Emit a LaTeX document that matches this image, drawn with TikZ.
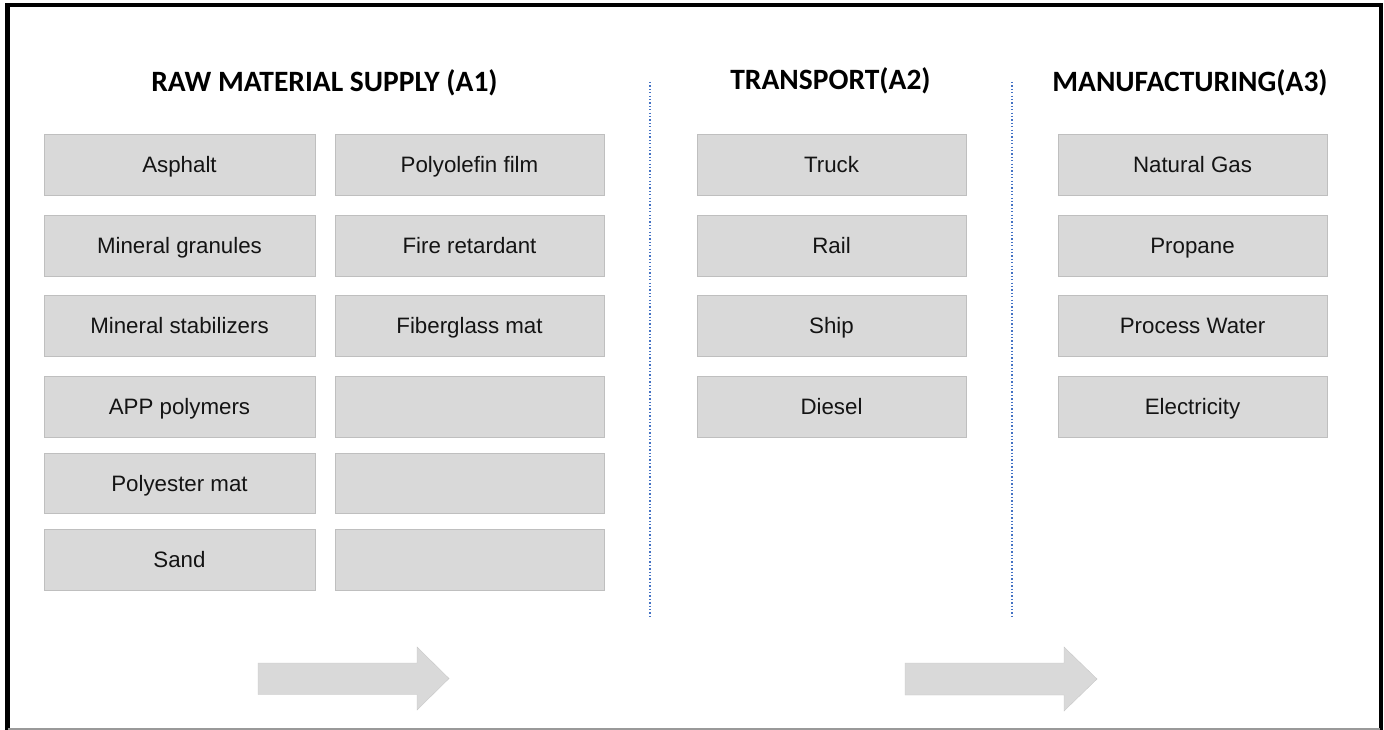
\documentclass[tikz,border=0pt]{standalone}
\usepackage{fontspec}
\setmainfont{Liberation Sans}
\newfontfamily\titlefont{Carlito}
\definecolor{boxfill}{HTML}{D9D9D9}
\definecolor{boxedge}{HTML}{BFBFBF}
\definecolor{sepblue}{HTML}{4472C4}
\definecolor{arrowfill}{HTML}{D9D9D9}
\tikzset{
  itembox/.style={draw=boxedge, line width=1pt, fill=boxfill, minimum width=270pt, minimum height=60.5pt,
    inner sep=0pt, font=\fontsize{22.3pt}{25pt}\selectfont, text height=15.9pt, text depth=0pt, text=black!92},
  coltitle/.style={inner sep=0pt, font=\titlefont\bfseries\fontsize{29.5pt}{33pt}\selectfont, text height=18.5pt, text depth=0pt},
  sepline/.style={draw=sepblue, line width=1.3pt, dash pattern=on 1.3pt off 2.1pt},
  flowarrow/.style={fill=arrowfill, draw=boxfill!92!black, line width=0.4pt}
}
\begin{document}
\begin{tikzpicture}[x=1pt,y=-1pt]
\useasboundingbox (0,0) rectangle (1384,730);
\fill[white] (0,0) rectangle (1384,730);
% frame
\draw[black, line width=4.5pt] (7.5,731) -- (7.5,5) -- (1381,5) -- (1381,731);
\draw[black!40, line width=1.5pt] (8,729) -- (1380,729);

% titles
\node[coltitle] (t1) at (324.5,82) {RAW MATERIAL SUPPLY (A1)};
\node[coltitle] (t2) at (830.5,80) {TRANSPORT(A2)};
\node[coltitle] (t3) at (1190,82.5) {MANUFACTURING(A3)};

% raw material column 1
\node[itembox, minimum width=271pt] (a1) at (179.5,165) {Asphalt};
\node[itembox, minimum width=271pt] (a2) at (179.5,246) {Mineral granules};
\node[itembox, minimum width=271pt] (a3) at (179.5,326) {Mineral stabilizers};
\node[itembox, minimum width=271pt] (a4) at (179.5,407) {APP polymers};
\node[itembox, minimum width=271pt] (a5) at (179.5,483.5) {Polyester mat};
\node[itembox, minimum width=271pt] (a6) at (179.5,560) {Sand};
% raw material column 2
\node[itembox, minimum width=269pt] (b1) at (469.5,165) {Polyolefin film};
\node[itembox, minimum width=269pt] (b2) at (469.5,246) {Fire retardant};
\node[itembox, minimum width=269pt] (b3) at (469.5,326) {Fiberglass mat};
\node[itembox, minimum width=269pt] (b4) at (469.5,407) {};
\node[itembox, minimum width=269pt] (b5) at (469.5,483.5) {};
\node[itembox, minimum width=269pt] (b6) at (469.5,560) {};
% transport
\node[itembox, minimum width=269pt] (c1) at (831.5,165) {Truck};
\node[itembox, minimum width=269pt] (c2) at (831.5,246) {Rail};
\node[itembox, minimum width=269pt] (c3) at (831.5,326) {Ship};
\node[itembox, minimum width=269pt] (c4) at (831.5,407) {Diesel};
% manufacturing
\node[itembox, minimum width=269pt] (d1) at (1192.5,165) {Natural Gas};
\node[itembox, minimum width=269pt] (d2) at (1192.5,246) {Propane};
\node[itembox, minimum width=269pt] (d3) at (1192.5,326) {Process Water};
\node[itembox, minimum width=269pt] (d4) at (1192.5,407) {Electricity};

% separators
\coordinate (s1top) at (650,82);
\coordinate (s1bot) at (650,618);
\coordinate (s2top) at (1012,82);
\coordinate (s2bot) at (1012,618);
\draw[sepline] (s1top) -- (s1bot);
\draw[sepline] (s2top) -- (s2bot);

% flow arrows
\draw[flowarrow] (258,663) -- (417,663) -- (417,647) -- (449,678.5) -- (417,710) -- (417,694.5) -- (258,694.5) -- cycle;
\draw[flowarrow] (905,663) -- (1064,663) -- (1064,647) -- (1097,679) -- (1064,711) -- (1064,695) -- (905,695) -- cycle;
\end{tikzpicture}
\end{document}
